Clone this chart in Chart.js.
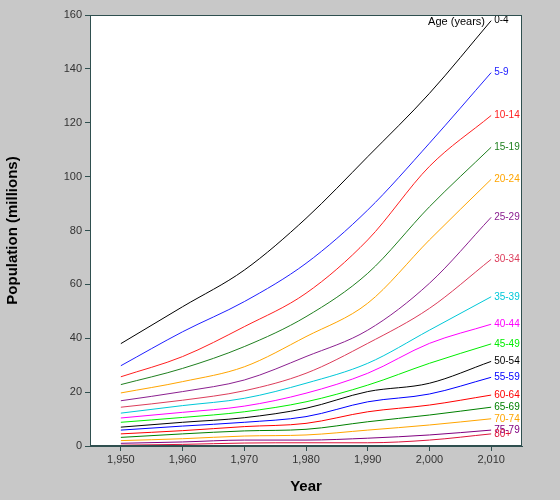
<!DOCTYPE html>
<html>
<head>
<script src="https://cdn.jsdelivr.net/npm/chart.js@4"></script>
<style>
  body { margin: 0; background: #c8c8c8; }
  #wrap { width: 560px; height: 500px; }
</style>
</head>
<body>
<div id="wrap"><canvas id="popChart"></canvas></div>
<script>
const years = [1950, 1960, 1970, 1980, 1990, 2000, 2010];
const ageGroups = ['0-4', '5-9', '10-14', '15-19', '20-24', '25-29', '30-34', '35-39',
  '40-44', '45-49', '50-54', '55-59', '60-64', '65-69', '70-74', '75-79', '80+'];
const population = [
  [38.0, 51.7, 65.3, 84.5, 107.4, 130.9, 157.9],
  [29.8, 42.4, 53.6, 67.8, 87.6, 112.4, 138.6],
  [25.7, 33.2, 44.3, 56.7, 76.5, 103.8, 122.7],
  [22.8, 28.8, 36.9, 48.0, 64.1, 88.8, 110.9],
  [19.7, 23.9, 29.4, 40.6, 53.0, 76.5, 99.0],
  [16.8, 20.2, 24.5, 33.2, 43.0, 60.4, 84.9],
  [14.4, 17.0, 20.5, 27.0, 38.1, 51.1, 69.3],
  [12.2, 15.0, 17.7, 23.3, 30.7, 43.0, 55.4],
  [10.4, 12.5, 14.8, 19.6, 27.0, 38.1, 45.2],
  [8.8, 10.6, 12.7, 16.4, 22.6, 30.7, 37.9],
  [7.0, 8.8, 10.5, 14.0, 20.2, 23.3, 31.4],
  [5.9, 7.4, 8.8, 10.9, 16.4, 19.3, 25.5],
  [4.5, 5.7, 7.2, 8.4, 12.7, 15.2, 18.9],
  [3.2, 4.5, 5.6, 6.2, 9.0, 11.5, 14.4],
  [2.0, 2.7, 3.7, 4.1, 5.9, 7.8, 10.1],
  [1.0, 1.5, 2.2, 2.2, 2.9, 4.1, 5.9],
  [0.3, 0.6, 1.1, 1.2, 1.2, 2.2, 4.5]
];
const lineColors = ['#000000', '#2020ff', '#ff2020', '#208020', '#ffa500', '#8b2090', '#dc3c5a',
  '#00c8d8', '#ff00ff', '#00ee00', '#000000', '#0000ff', '#ff0000', '#008000', '#ffa500', '#800080', '#dc143c'];
const yTicks = [0, 20, 40, 60, 80, 100, 120, 140, 160];

// white plot area + border
const plotBg = {
  id: 'plotBg',
  beforeDraw(chart) {
    const { ctx, chartArea: a } = chart;
    ctx.save();
    ctx.fillStyle = '#c8c8c8';
    ctx.fillRect(0, 0, chart.width, chart.height);
    ctx.fillStyle = '#ffffff';
    ctx.fillRect(a.left, a.top, a.right - a.left, a.bottom - a.top);
    ctx.restore();
  },
  afterDraw(chart) {
    const { ctx, chartArea: a } = chart;
    ctx.save();
    ctx.strokeStyle = '#2f4f4f';
    ctx.lineWidth = 1;
    ctx.strokeRect(a.left + 0.5, a.top + 0.5, a.right - a.left - 1, a.bottom - a.top - 1);
    ctx.restore();
  }
};

// age labels at the end of each line
const endLabels = {
  id: 'endLabels',
  afterDatasetsDraw(chart) {
    const { ctx, scales } = chart;
    ctx.save();
    ctx.font = '10px "Liberation Sans", Arial, sans-serif';
    ctx.textBaseline = 'middle';
    chart.data.datasets.forEach((ds, i) => {
      const last = ds.data[ds.data.length - 1];
      const x = scales.x.getPixelForValue(last.x) + 3;
      const y = scales.y.getPixelForValue(last.y);
      ctx.fillStyle = ds.borderColor;
      ctx.fillText(ds.label, x, y);
    });
    ctx.fillStyle = '#000';
    ctx.font = '11px "Liberation Sans", Arial, sans-serif';
    ctx.textAlign = 'right';
    ctx.fillText('Age (years)', scales.x.getPixelForValue(2009), scales.y.getPixelForValue(157.5));
    ctx.restore();
  }
};

new Chart(document.getElementById('popChart'), {
  type: 'line',
  data: {
    datasets: ageGroups.map((g, i) => ({
      label: g,
      data: years.map((yr, j) => ({ x: yr, y: population[i][j] })),
      borderColor: lineColors[i],
      borderWidth: 1,
      pointRadius: 0,
      cubicInterpolationMode: 'monotone'
    }))
  },
  options: {
    responsive: true,
    maintainAspectRatio: false,
    animation: false,
    layout: { padding: { left: 0, right: 38, top: 15, bottom: 0 } },
    plugins: { legend: { display: false }, tooltip: { enabled: false } },
    scales: {
      x: {
        type: 'linear',
        min: 1945,
        max: 2015,
        afterBuildTicks: axis => { axis.ticks = years.map(v => ({ value: v })); },
        afterFit: axis => { axis.height = 54; },
        grid: { drawOnChartArea: false, tickLength: 5, color: '#2f4f4f' },
        border: { color: '#2f4f4f' },
        ticks: { color: '#333', font: { size: 11, family: '"Liberation Sans", Arial' }, padding: 2 },
        title: { display: true, text: 'Year', color: '#000', font: { size: 15, weight: 'bold', family: '"Liberation Sans", Arial' }, padding: { top: 4 } }
      },
      y: {
        min: 0,
        max: 160,
        afterBuildTicks: axis => { axis.ticks = yTicks.map(v => ({ value: v })); },
        afterFit: axis => { axis.width = 90; },
        grid: { drawOnChartArea: false, tickLength: 5, color: '#2f4f4f' },
        border: { color: '#2f4f4f' },
        ticks: { color: '#333', font: { size: 11, family: '"Liberation Sans", Arial' }, padding: 3 },
        title: { display: true, text: 'Population (millions)', color: '#000', font: { size: 15, weight: 'bold', family: '"Liberation Sans", Arial' }, padding: { bottom: 10 } }
      }
    }
  },
  plugins: [plotBg, endLabels]
});
</script>
</body>
</html>
